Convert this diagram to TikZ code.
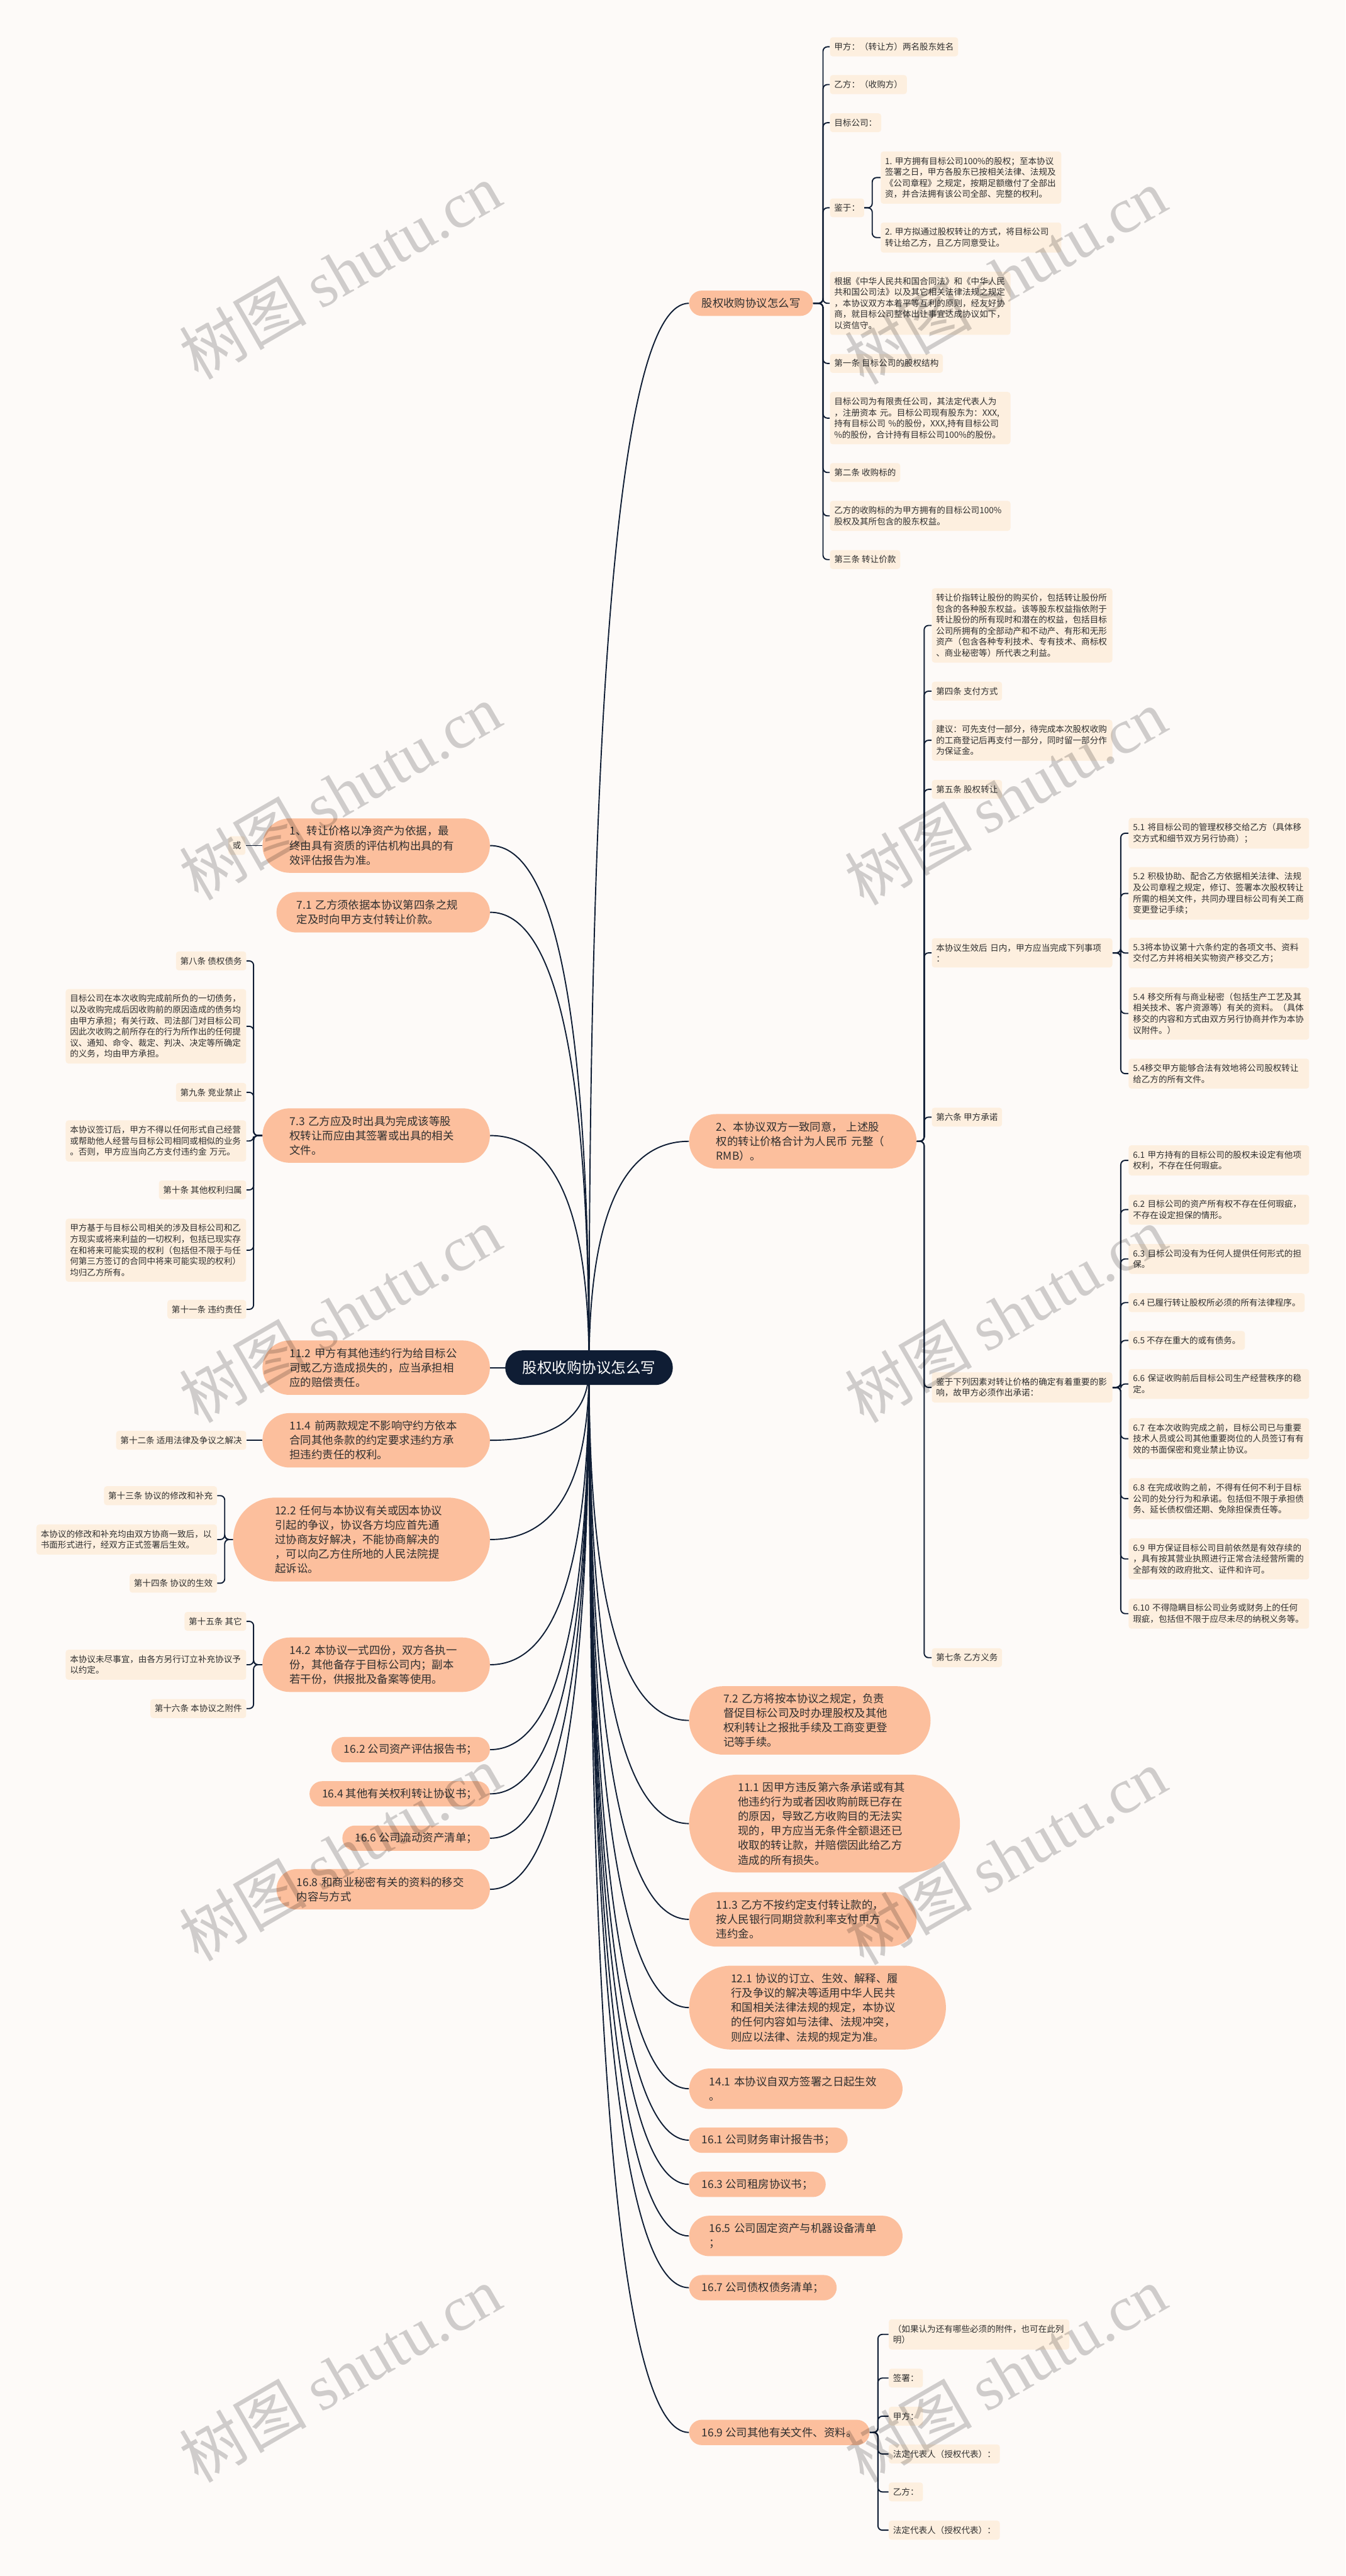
\documentclass[tikz,border=0pt]{standalone}
\usepackage{fontspec}
\setmainfont{Noto Sans CJK SC}
\newfontfamily\WmLatin{Liberation Serif}
\definecolor{bgc}{HTML}{FDFAF8}
\definecolor{leafc}{HTML}{FDEFDF}
\definecolor{pillc}{HTML}{FCBF9D}
\definecolor{rootc}{HTML}{0F1D34}
\definecolor{linec}{HTML}{0F1D34}
\definecolor{textc}{HTML}{2F2F2F}
\newcommand\FntLeaf{\fontsize{7.8pt}{10.1pt}\selectfont}
\newcommand\FntMain{\fontsize{10pt}{13.3pt}\selectfont}
\newcommand\FntRoot{\fontsize{13.5pt}{16pt}\selectfont}
\newcommand\FntWm{\fontsize{58pt}{60pt}\selectfont}
\pgfdeclarelayer{bglayer}
\pgfdeclarelayer{edgelayer}
\pgfsetlayers{bglayer,edgelayer,main}
\begin{document}
\begin{tikzpicture}[x=1.5pt,y=-1.5pt,
 leaf/.style={fill=leafc, rounded corners=2.5pt, inner xsep=3.9pt, inner ysep=5pt, font=\FntLeaf, text=textc, align=left},
 leafw/.style={leaf, text width=157pt},
 pillbase/.style={rectangle, fill=pillc, inner ysep=3pt, font=\FntMain, text=textc, align=left},
 p1/.style={pillbase, rounded corners=11.5pt, minimum height=23.1pt, inner xsep=11.5pt},
 p2/.style={pillbase, text width=158pt, rounded corners=18.4pt, minimum height=36.9pt, inner xsep=18.4pt},
 p3/.style={pillbase, text width=158pt, rounded corners=24.8pt, minimum height=49.7pt, inner xsep=24.8pt},
 p4/.style={pillbase, text width=158pt, rounded corners=31.2pt, minimum height=62.5pt, inner xsep=31.2pt},
 p5/.style={pillbase, text width=158pt, rounded corners=38.2pt, minimum height=76.5pt, inner xsep=38.2pt},
 p6/.style={pillbase, text width=158pt, rounded corners=44.6pt, minimum height=89.3pt, inner xsep=44.6pt},
 rootn/.style={rectangle, fill=rootc, text=white, font=\FntRoot, rounded corners=15.75pt, minimum height=31.6pt, inner xsep=15.75pt, inner ysep=3pt},
 edge/.style={draw=linec, line width=1.1pt},
 br/.style={draw=linec, line width=1.1pt, rounded corners=4pt},
 wm/.style={font=\FntWm, text=black, text opacity=0.18, rotate=30, inner sep=0pt}
]
\useasboundingbox (0,0) rectangle (819,1568);
\begin{pgfonlayer}{bglayer}
\fill[bgc] (0,0) rectangle (819,1568);
\end{pgfonlayer}

% root
\node[rootn] (root) at (358.5,832.5) {股权收购协议怎么写};

% right level-1
\node[p1, anchor=west] (R1) at (419.3,184.6) {股权收购协议怎么写};
\node[p3, anchor=west] (R2) at (419.3,694.7) {2、本协议双方一致同意，~上述股\\权的转让价格合计为人民币~元整（\\RMB）。};
\node[p4, anchor=west] (R3) at (419.3,1047.2) {7.2~乙方将按本协议之规定，负责\\督促目标公司及时办理股权及其他\\权利转让之报批手续及工商变更登\\记等手续。};
\node[p6, anchor=west] (R4) at (419.3,1110) {11.1~因甲方违反第六条承诺或有其\\他违约行为或者因收购前既已存在\\的原因，导致乙方收购目的无法实\\现的，甲方应当无条件全额退还已\\收取的转让款，并赔偿因此给乙方\\造成的所有损失。};
\node[p3, anchor=west] (R5) at (419.3,1168.3) {11.3~乙方不按约定支付转让款的，\\按人民银行同期贷款利率支付甲方\\违约金。};
\node[p5, anchor=west] (R6) at (419.3,1222) {12.1~协议的订立、生效、解释、履\\行及争议的解决等适用中华人民共\\和国相关法律法规的规定，本协议\\的任何内容如与法律、法规冲突，\\则应以法律、法规的规定为准。};
\node[p2, anchor=west] (R7) at (419.3,1271.4) {14.1~本协议自双方签署之日起生效\\。};
\node[p1, anchor=west] (R8) at (419.3,1302.7) {16.1 公司财务审计报告书；};
\node[p1, anchor=west] (R9) at (419.3,1329.6) {16.3 公司租房协议书；};
\node[p2, anchor=west] (R10) at (419.3,1361) {16.5~公司固定资产与机器设备清单\\；};
\node[p1, anchor=west] (R11) at (419.3,1392.5) {16.7 公司债权债务清单；};
\node[p1, anchor=west] (R12) at (419.3,1480.6) {16.9 公司其他有关文件、资料。};

% left level-1
\node[p3, anchor=east] (L1) at (298.3,514.7) {1、转让价格以净资产为依据，最\\终由具有资质的评估机构出具的有\\效评估报告为准。};
\node[p2, anchor=east] (L2) at (298.3,555.3) {7.1~乙方须依据本协议第四条之规\\定及时向甲方支付转让价款。};
\node[p3, anchor=east] (L3) at (298.3,691.2) {7.3~乙方应及时出具为完成该等股\\权转让而应由其签署或出具的相关\\文件。};
\node[p3, anchor=east] (L4) at (298.3,832.5) {11.2~甲方有其他违约行为给目标公\\司或乙方造成损失的，应当承担相\\应的赔偿责任。};
\node[p3, anchor=east] (L5) at (298.3,876.7) {11.4~前两款规定不影响守约方依本\\合同其他条款的约定要求违约方承\\担违约责任的权利。};
\node[p5, anchor=east] (L6) at (298.3,937.1) {12.2~任何与本协议有关或因本协议\\引起的争议，协议各方均应首先通\\过协商友好解决，不能协商解决的\\，可以向乙方住所地的人民法院提\\起诉讼。};
\node[p3, anchor=east] (L7) at (298.3,1013.3) {14.2~本协议一式四份，双方各执一\\份，其他备存于目标公司内；副本\\若干份，供报批及备案等使用。};
\node[p1, anchor=east] (L8) at (298.3,1065) {16.2 公司资产评估报告书；};
\node[p1, anchor=east] (L9) at (298.3,1091.9) {16.4 其他有关权利转让协议书；};
\node[p1, anchor=east] (L10) at (298.3,1118.9) {16.6 公司流动资产清单；};
\node[p2, anchor=east] (L11) at (298.3,1150) {16.8~和商业秘密有关的资料的移交\\内容与方式};

% R1 children
\node[leaf, anchor=west] (a1) at (505,28.5) {甲方：（转让方）两名股东姓名};
\node[leaf, anchor=west] (a2) at (505,51.5) {乙方：（收购方）};
\node[leaf, anchor=west] (a3) at (505,74.7) {目标公司：};
\node[leaf, anchor=west] (a4) at (505,126.5) {鉴于：};
\node[leafw, anchor=west] (a4a) at (535.9,108.1) {1.~甲方拥有目标公司100\%的股权；至本协议\\签署之日，甲方各股东已按相关法律、法规及\\《公司章程》之规定，按期足额缴付了全部出\\资，并合法拥有该公司全部、完整的权利。};
\node[leafw, anchor=west] (a4b) at (535.9,144.6) {2.~甲方拟通过股权转让的方式，将目标公司\\转让给乙方，且乙方同意受让。};
\node[leafw, anchor=west] (a5) at (505,184.6) {根据《中华人民共和国合同法》和《中华人民\\共和国公司法》以及其它相关法律法规之规定\\，本协议双方本着平等互利的原则，经友好协\\商，就目标公司整体出让事宜达成协议如下，\\以资信守。};
\node[leaf, anchor=west] (a6) at (505,221.2) {第一条 目标公司的股权结构};
\node[leafw, anchor=west] (a7) at (505,254.5) {目标公司为有限责任公司，其法定代表人为\\，注册资本~元。目标公司现有股东为：XXX,\\持有目标公司~\%的股份，XXX,持有目标公司\\ \%的股份，合计持有目标公司100\%的股份。};
\node[leaf, anchor=west] (a8) at (505,287.6) {第二条 收购标的};
\node[leafw, anchor=west] (a9) at (505,314) {乙方的收购标的为甲方拥有的目标公司100\%\\股权及其所包含的股东权益。};
\node[leaf, anchor=west] (a10) at (505,340.6) {第三条 转让价款};

% R2 children
\node[leafw, anchor=west] (b1) at (567,380.7) {转让价指转让股份的购买价，包括转让股份所\\包含的各种股东权益。该等股东权益指依附于\\转让股份的所有现时和潜在的权益，包括目标\\公司所拥有的全部动产和不动产、有形和无形\\资产（包含各种专利技术、专有技术、商标权\\、商业秘密等）所代表之利益。};
\node[leaf, anchor=west] (b2) at (567,420.7) {第四条 支付方式};
\node[leafw, anchor=west] (b3) at (567,450.6) {建议：可先支付一部分，待完成本次股权收购\\的工商登记后再支付一部分，同时留一部分作\\为保证金。};
\node[leaf, anchor=west] (b4) at (567,480.5) {第五条 股权转让};
\node[leafw, anchor=west] (b5) at (567,580) {本协议生效后~日内，甲方应当完成下列事项\\：};
\node[leaf, anchor=west] (b6) at (567,680) {第六条 甲方承诺};
\node[leafw, anchor=west] (b7) at (567,844.5) {鉴于下列因素对转让价格的确定有着重要的影\\响，故甲方必须作出承诺：};
\node[leaf, anchor=west] (b8) at (567,1009) {第七条 乙方义务};

\node[leafw, anchor=west] (c1) at (686.8,507.2) {5.1~将目标公司的管理权移交给乙方（具体移\\交方式和细节双方另行协商）；};
\node[leafw, anchor=west] (c2) at (686.8,543.8) {5.2~积极协助、配合乙方依据相关法律、法规\\及公司章程之规定，修订、签署本次股权转让\\所需的相关文件，共同办理目标公司有关工商\\变更登记手续；};
\node[leafw, anchor=west] (c3) at (686.8,580.1) {5.3将本协议第十六条约定的各项文书、资料\\交付乙方并将相关实物资产移交乙方；};
\node[leafw, anchor=west] (c4) at (686.8,616.9) {5.4~移交所有与商业秘密（包括生产工艺及其\\相关技术、客户资源等）有关的资料。（具体\\移交的内容和方式由双方另行协商并作为本协\\议附件。）};
\node[leafw, anchor=west] (c5) at (686.8,653.5) {5.4移交甲方能够合法有效地将公司股权转让\\给乙方的所有文件。};

\node[leafw, anchor=west] (d1) at (686.8,706.3) {6.1~甲方持有的目标公司的股权未设定有他项\\权利，不存在任何瑕疵。};
\node[leafw, anchor=west] (d2) at (686.8,736.3) {6.2~目标公司的资产所有权不存在任何瑕疵，\\不存在设定担保的情形。};
\node[leafw, anchor=west] (d3) at (686.8,766.3) {6.3~目标公司没有为任何人提供任何形式的担\\保。};
\node[leaf, anchor=west] (d4) at (686.8,792.9) {6.4 已履行转让股权所必须的所有法律程序。};
\node[leaf, anchor=west] (d5) at (686.8,815.9) {6.5 不存在重大的或有债务。};
\node[leafw, anchor=west] (d6) at (686.8,842.4) {6.6~保证收购前后目标公司生产经营秩序的稳\\定。};
\node[leafw, anchor=west] (d7) at (686.8,875.7) {6.7~在本次收购完成之前，目标公司已与重要\\技术人员或公司其他重要岗位的人员签订有有\\效的书面保密和竞业禁止协议。};
\node[leafw, anchor=west] (d8) at (686.8,912.2) {6.8~在完成收购之前，不得有任何不利于目标\\公司的处分行为和承诺。包括但不限于承担债\\务、延长债权偿还期、免除担保责任等。};
\node[leafw, anchor=west] (d9) at (686.8,948.9) {6.9~甲方保证目标公司目前依然是有效存续的\\，具有按其营业执照进行正常合法经营所需的\\全部有效的政府批文、证件和许可。};
\node[leafw, anchor=west] (d10) at (686.8,982.2) {6.10~不得隐瞒目标公司业务或财务上的任何\\瑕疵，包括但不限于应尽未尽的纳税义务等。};

% R12 children
\node[leafw, anchor=west] (e1) at (540.8,1420.9) {（如果认为还有哪些必须的附件，也可在此列\\明）};
\node[leaf, anchor=west] (e2) at (540.8,1447.5) {签署：};
\node[leaf, anchor=west] (e3) at (540.8,1470.7) {甲方：};
\node[leaf, anchor=west] (e4) at (540.8,1493.7) {法定代表人（授权代表）：};
\node[leaf, anchor=west] (e5) at (540.8,1516.8) {乙方：};
\node[leaf, anchor=west] (e6) at (540.8,1540.1) {法定代表人（授权代表）：};

% left children
\node[leaf, anchor=east] (or1) at (149.5,514.7) {或};
\node[leaf, anchor=east] (f1) at (150,584.9) {第八条 债权债务};
\node[leafw, anchor=east] (f2) at (150,624.7) {目标公司在本次收购完成前所负的一切债务，\\以及收购完成后因收购前的原因造成的债务均\\由甲方承担；有关行政、司法部门对目标公司\\因此次收购之前所存在的行为所作出的任何提\\议、通知、命令、裁定、判决、决定等所确定\\的义务，均由甲方承担。};
\node[leaf, anchor=east] (f3) at (150,664.9) {第九条 竞业禁止};
\node[leafw, anchor=east] (f4) at (150,694.5) {本协议签订后，甲方不得以任何形式自己经营\\或帮助他人经营与目标公司相同或相似的业务\\。否则，甲方应当向乙方支付违约金~万元。};
\node[leaf, anchor=east] (f5) at (150,724.3) {第十条 其他权利归属};
\node[leafw, anchor=east] (f6) at (150,761) {甲方基于与目标公司相关的涉及目标公司和乙\\方现实或将来利益的一切权利，包括已现实存\\在和将来可能实现的权利（包括但不限于与任\\何第三方签订的合同中将来可能实现的权利）\\均归乙方所有。};
\node[leaf, anchor=east] (f7) at (150,797) {第十一条 违约责任};
\node[leaf, anchor=east] (g1) at (150,876.7) {第十二条 适用法律及争议之解决};
\node[leaf, anchor=east] (h1) at (132.2,910.4) {第十三条 协议的修改和补充};
\node[leafw, anchor=east] (h2) at (132.2,937.1) {本协议的修改和补充均由双方协商一致后，以\\书面形式进行，经双方正式签署后生效。};
\node[leaf, anchor=east] (h3) at (132.2,963.7) {第十四条 协议的生效};
\node[leaf, anchor=east] (i1) at (150,986.9) {第十五条 其它};
\node[leafw, anchor=east] (i2) at (150,1013.3) {本协议未尽事宜，由各方另行订立补充协议予\\以约定。};
\node[leaf, anchor=east] (i3) at (150,1040) {第十六条 本协议之附件};

\begin{pgfonlayer}{edgelayer}
% root to right
\draw[edge] (root.center) .. controls +(0,-431.9) and +(-40.5,0) .. (R1.west);
\draw[edge] (root.center) .. controls +(0,-91.9) and +(-40.5,0) .. (R2.west);
\draw[edge] (root.center) .. controls +(0,143.1) and +(-40.5,0) .. (R3.west);
\draw[edge] (root.center) .. controls +(0,185) and +(-40.5,0) .. (R4.west);
\draw[edge] (root.center) .. controls +(0,223.9) and +(-40.5,0) .. (R5.west);
\draw[edge] (root.center) .. controls +(0,259.7) and +(-40.5,0) .. (R6.west);
\draw[edge] (root.center) .. controls +(0,292.6) and +(-40.5,0) .. (R7.west);
\draw[edge] (root.center) .. controls +(0,313.5) and +(-40.5,0) .. (R8.west);
\draw[edge] (root.center) .. controls +(0,331.4) and +(-40.5,0) .. (R9.west);
\draw[edge] (root.center) .. controls +(0,352.3) and +(-40.5,0) .. (R10.west);
\draw[edge] (root.center) .. controls +(0,373.3) and +(-40.5,0) .. (R11.west);
\draw[edge] (root.center) .. controls +(0,432.1) and +(-40.5,0) .. (R12.west);
% root to left
\draw[edge] (root.center) .. controls +(0,-211.9) and +(40.1,0) .. (L1.east);
\draw[edge] (root.center) .. controls +(0,-184.8) and +(40.1,0) .. (L2.east);
\draw[edge] (root.center) .. controls +(0,-94.2) and +(40.1,0) .. (L3.east);
\draw[edge] (root.center) -- (L4.east);
\draw[edge] (root.center) .. controls +(0,29.5) and +(40.1,0) .. (L5.east);
\draw[edge] (root.center) .. controls +(0,69.7) and +(40.1,0) .. (L6.east);
\draw[edge] (root.center) .. controls +(0,120.5) and +(40.1,0) .. (L7.east);
\draw[edge] (root.center) .. controls +(0,155) and +(40.1,0) .. (L8.east);
\draw[edge] (root.center) .. controls +(0,172.9) and +(40.1,0) .. (L9.east);
\draw[edge] (root.center) .. controls +(0,190.9) and +(40.1,0) .. (L10.east);
\draw[edge] (root.center) .. controls +(0,211.7) and +(40.1,0) .. (L11.east);
% brackets
\foreach \n in {a1,a2,a3,a4,a5,a6,a7,a8,a9,a10} \draw[br] (R1.east) -- ++(6,0) |- (\n.west);
\foreach \n in {a4a,a4b} \draw[br] (a4.east) -- ++(4.8,0) |- (\n.west);
\foreach \n in {b1,b2,b3,b4,b5,b6,b7,b8} \draw[br] (R2.east) -- ++(4.5,0) |- (\n.west);
\foreach \n in {c1,c2,c3,c4,c5} \draw[br] (b5.east) -- ++(5,0) |- (\n.west);
\foreach \n in {d1,d2,d3,d4,d5,d6,d7,d8,d9,d10} \draw[br] (b7.east) -- ++(5,0) |- (\n.west);
\foreach \n in {e1,e2,e3,e4,e5,e6} \draw[br] (R12.east) -- ++(5,0) |- (\n.west);
\draw[edge] (L1.west) -- (or1.east);
\foreach \n in {f1,f2,f3,f4,f5,f6,f7} \draw[br] (L3.west) -- ++(-5.3,0) |- (\n.east);
\draw[edge] (L5.west) -- (g1.east);
\foreach \n in {h1,h2,h3} \draw[br] (L6.west) -- ++(-5,0) |- (\n.east);
\foreach \n in {i1,i2,i3} \draw[br] (L7.west) -- ++(-5.3,0) |- (\n.east);
\end{pgfonlayer}

% watermarks
\node[wm] (wm1) at (207,165) {树图 {\WmLatin shutu.cn}};
\node[wm] (wm2) at (612,168) {树图 {\WmLatin shutu.cn}};
\node[wm] (wm3) at (207,482) {树图 {\WmLatin shutu.cn}};
\node[wm] (wm4) at (612,485) {树图 {\WmLatin shutu.cn}};
\node[wm] (wm5) at (207,800) {树图 {\WmLatin shutu.cn}};
\node[wm] (wm6) at (612,800) {树图 {\WmLatin shutu.cn}};
\node[wm] (wm7) at (207,1128) {树图 {\WmLatin shutu.cn}};
\node[wm] (wm8) at (612,1130) {树图 {\WmLatin shutu.cn}};
\node[wm] (wm9) at (207,1445) {树图 {\WmLatin shutu.cn}};
\node[wm] (wm10) at (612,1445) {树图 {\WmLatin shutu.cn}};
\end{tikzpicture}
\end{document}
